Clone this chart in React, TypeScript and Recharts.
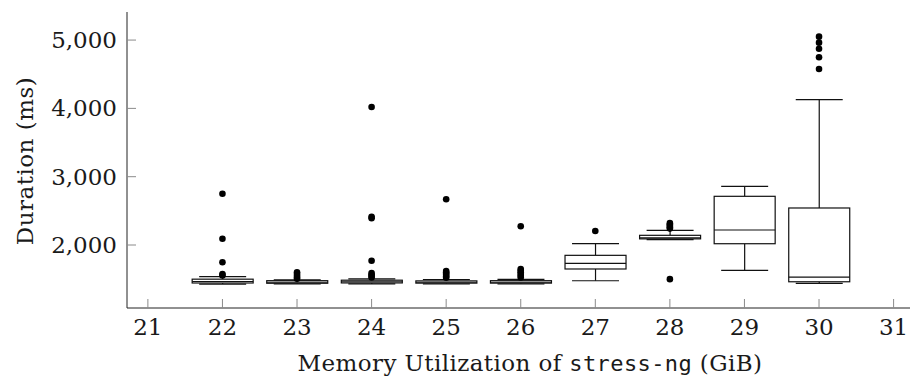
import React from 'react';
import { ComposedChart, Bar, Scatter, XAxis, YAxis } from 'recharts';

const sizes = [22, 23, 24, 25, 26, 27, 28, 29, 30];
const lowerWhisker = [1428, 1430, 1430, 1430, 1430, 1477, 2078, 1630, 1439];
const q1 = [1444, 1440, 1445, 1442, 1442, 1649, 2090, 2019, 1462];
const median = [1466, 1455, 1462, 1455, 1455, 1732, 2105, 2220, 1530];
const q3 = [1500, 1478, 1485, 1475, 1478, 1849, 2142, 2713, 2542];
const upperWhisker = [1537, 1490, 1505, 1495, 1497, 2019, 2215, 2859, 4127];
const outliers = [
  [2751, 2092, 1747, 1575, 1555],
  [1600, 1575, 1550, 1525, 1505],
  [4020, 2414, 2391, 1770, 1590, 1565, 1545, 1525],
  [2669, 1620, 1600, 1580, 1560, 1540, 1520],
  [2274, 1650, 1625, 1600, 1575, 1550, 1525],
  [2205],
  [2320, 2300, 2280, 2260, 2240, 1500],
  [],
  [5050, 4962, 4874, 4748, 4577],
];
const xTicks = [21, 22, 23, 24, 25, 26, 27, 28, 29, 30, 31];
const yTicks = [2000, 3000, 4000, 5000];

const boxes = sizes.map((s, i) => ({
  x: s,
  range: [lowerWhisker[i], upperWhisker[i]],
  lw: lowerWhisker[i],
  q1: q1[i],
  med: median[i],
  q3: q3[i],
  uw: upperWhisker[i],
}));
const points = sizes.flatMap((s, i) => outliers[i].map((v) => ({ x: s, y: v })));

const X_DOMAIN: [number, number] = [20.72, 31.22];
const Y_DOMAIN: [number, number] = [1078, 5411];
const FONT = '"DejaVu Serif", serif';
const MONO = '"DejaVu Sans Mono", monospace';
const FS = 23;
const TICK_LEN = 9;
const TICK_COLOR = '#8a8a8a';
const FRAME = '#222';
const INK = '#1a1a1a';

const BoxShape = (props: any) => {
  const { x, y, width, height, payload } = props;
  const top = Math.min(y, y + height);
  const h = Math.abs(height);
  const { lw, q1, med, q3, uw } = payload;
  const k = h / (uw - lw);
  const py = (v: number) => top + (uw - v) * k;
  const cx = x + width / 2;
  const cap = width * 0.385;
  return (
    <g stroke="#111" strokeWidth={1.2} fill="none">
      <line x1={cx} x2={cx} y1={py(uw)} y2={py(q3)} />
      <line x1={cx} x2={cx} y1={py(q1)} y2={py(lw)} />
      <line x1={cx - cap} x2={cx + cap} y1={py(uw)} y2={py(uw)} />
      <line x1={cx - cap} x2={cx + cap} y1={py(lw)} y2={py(lw)} />
      <rect x={x} y={py(q3)} width={width} height={py(q1) - py(q3)} fill="#fff" />
      <line x1={x} x2={x + width} y1={py(med)} y2={py(med)} />
    </g>
  );
};

const Dot = (props: any) => <circle cx={props.cx} cy={props.cy} r={3.3} fill="#000" />;

const BottomTick = ({ x, y, payload }: any) => (
  <g>
    <line x1={x} x2={x} y1={y} y2={y - TICK_LEN} stroke={TICK_COLOR} />
    <text x={x} y={y + 27} textAnchor="middle" fontFamily={FONT} fontSize={FS} fill={INK}>
      {payload.value}
    </text>
  </g>
);

const TopTick = ({ x, y }: any) => (
  <line x1={x} x2={x} y1={y} y2={y + TICK_LEN} stroke={TICK_COLOR} />
);

const LeftTick = ({ x, y, payload }: any) => (
  <g>
    <line x1={x} x2={x + TICK_LEN} y1={y} y2={y} stroke={TICK_COLOR} />
    <text x={x - 10} y={y + 8} textAnchor="end" fontFamily={FONT} fontSize={FS} fill={INK}>
      {payload.value.toLocaleString('en-US')}
    </text>
  </g>
);

const RightTick = ({ x, y }: any) => (
  <line x1={x} x2={x - TICK_LEN} y1={y} y2={y} stroke={TICK_COLOR} />
);

export default function App() {
  return (
    <div style={{ width: 911, height: 378, background: '#fff' }}>
      <style>{'body{margin:0}'}</style>
      <ComposedChart
        width={911}
        height={378}
        data={boxes}
        margin={{ top: 12, right: 1, left: 0, bottom: 0 }}
      >
        <XAxis
          dataKey="x"
          type="number"
          domain={X_DOMAIN}
          allowDataOverflow
          ticks={xTicks}
          interval={0}
          height={70}
          tickSize={0}
          tickMargin={0}
          tick={<BottomTick />}
          stroke={FRAME}
          label={{
            value: 'Memory Utilization of stress-ng (GiB)',
            content: () => (
              <text
                x={530}
                y={371}
                textAnchor="middle"
                fontFamily={FONT}
                fontSize={FS}
                letterSpacing={0.4}
                fill={INK}
              >
                Memory Utilization of{' '}
                <tspan fontFamily={MONO} fontSize={22}>stress-ng</tspan> (GiB)
              </text>
            ),
          }}
        />
        <XAxis
          xAxisId="top"
          orientation="top"
          type="number"
          domain={X_DOMAIN}
          allowDataOverflow
          ticks={xTicks}
          interval={0}
          height={0}
          tickSize={0}
          tickMargin={0}
          tick={<TopTick />}
          stroke={FRAME}
        />
        <YAxis
          type="number"
          domain={Y_DOMAIN}
          allowDataOverflow
          ticks={yTicks}
          interval={0}
          width={127}
          tickSize={0}
          tickMargin={0}
          tick={<LeftTick />}
          stroke={FRAME}
          label={{
            value: 'Duration (ms)',
            content: () => (
              <text
                x={0}
                y={0}
                transform="translate(33 161) rotate(-90)"
                textAnchor="middle"
                fontFamily={FONT}
                fontSize={FS}
                letterSpacing={0.5}
                fill={INK}
              >
                Duration (ms)
              </text>
            ),
          }}
        />
        <YAxis
          yAxisId="right"
          orientation="right"
          type="number"
          domain={Y_DOMAIN}
          allowDataOverflow
          ticks={yTicks}
          interval={0}
          width={0}
          tickSize={0}
          tickMargin={0}
          tick={<RightTick />}
          stroke={FRAME}
        />
        <Bar dataKey="range" barSize={61} shape={<BoxShape />} isAnimationActive={false} />
        <Scatter data={points} dataKey="y" shape={<Dot />} isAnimationActive={false} />
      </ComposedChart>
    </div>
  );
}
